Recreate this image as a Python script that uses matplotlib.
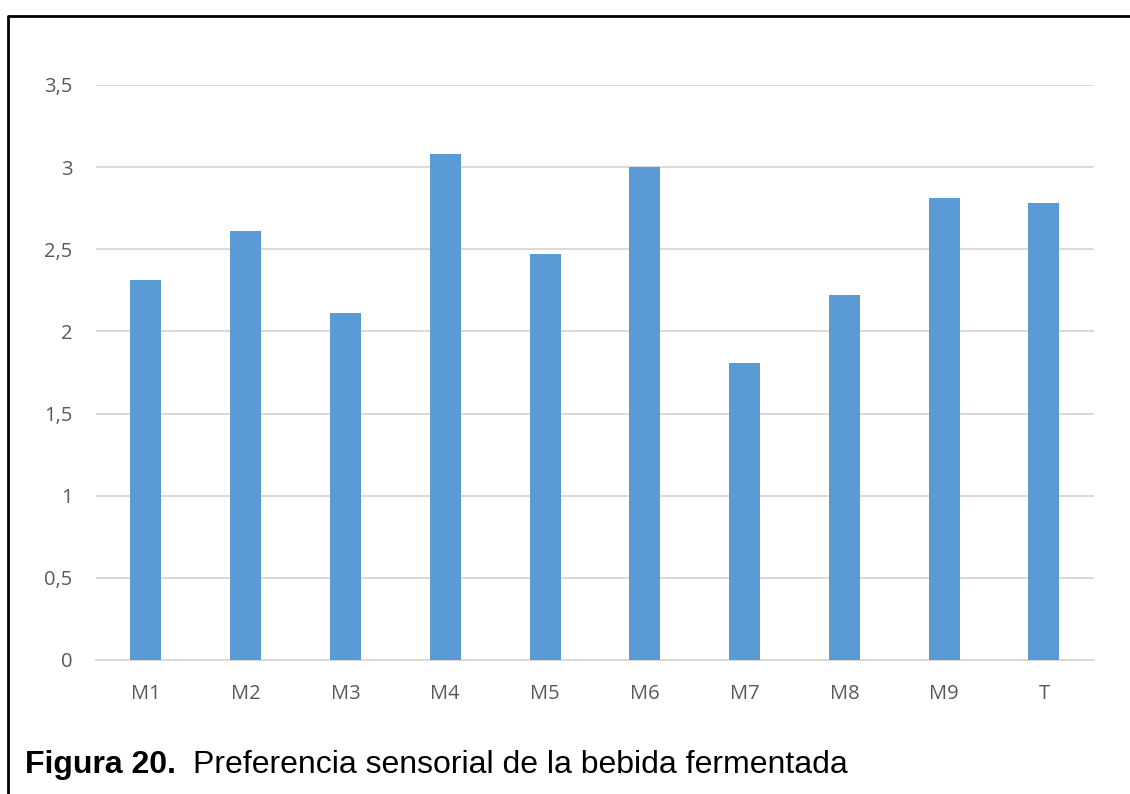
import numpy as np
import matplotlib.pyplot as plt
from matplotlib.lines import Line2D

muestras = ['M1', 'M2', 'M3', 'M4', 'M5', 'M6', 'M7', 'M8', 'M9', 'T']
preferencia = [2.31, 2.61, 2.11, 3.08, 2.47, 3.00, 1.81, 2.22, 2.81, 2.78]
yticks = [0, 0.5, 1, 1.5, 2, 2.5, 3, 3.5]
ylabels = ['0', '0,5', '1', '1,5', '2', '2,5', '3', '3,5']

fig = plt.figure(figsize=(11.3, 7.94), dpi=100)
ax = fig.add_axes([0.085, 0.1688, 0.883, 0.7242])

x = np.arange(len(muestras))
ax.bar(x, preferencia, width=0.31, color='#5b9bd5', zorder=3)

ax.set_xlim(-0.5, len(muestras) - 0.5)
ax.set_ylim(0, 3.5)
ax.set_yticks(yticks)
ax.set_yticklabels(ylabels)
ax.set_xticks(x)
ax.set_xticklabels(muestras)
ax.grid(axis='y', color='#d9d9d9', linewidth=1.4, zorder=0)
ax.tick_params(length=0, labelsize=14.5, labelcolor='#595959')
ax.tick_params(axis='y', pad=17)
ax.tick_params(axis='x', pad=17)
for lab in ax.get_xticklabels() + ax.get_yticklabels():
    lab.set_family('Open Sans')
for s in ['top', 'right', 'left']:
    ax.spines[s].set_visible(False)
ax.spines['bottom'].set_color('#d9d9d9')
ax.spines['bottom'].set_linewidth(1.4)

# marco del recuadro (arriba e izquierda)
fig.add_artist(Line2D([8 / 1130, 8 / 1130, 1.0], [0, 1 - 16 / 794, 1 - 16 / 794],
                      transform=fig.transFigure, color='black', linewidth=2))

fig.text(25 / 1130, 1 - 765 / 794, 'Figura 20.', fontsize=23, fontweight='bold',
         family='Liberation Sans', va='center', ha='left')
fig.text(193 / 1130, 1 - 765 / 794, 'Preferencia sensorial de la bebida fermentada',
         fontsize=23, family='Liberation Sans', va='center', ha='left')

fig.savefig('out.png', dpi=100)
